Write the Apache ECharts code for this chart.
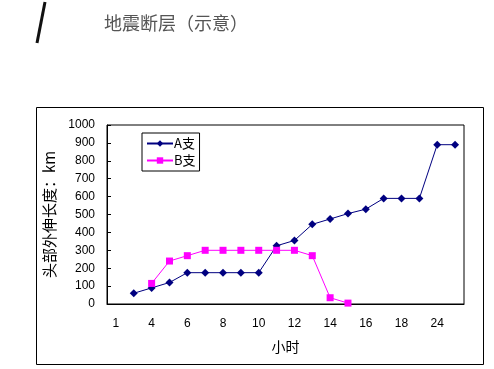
<!DOCTYPE html>
<html><head><meta charset="utf-8">
<script src="https://cdn.jsdelivr.net/npm/echarts@6/dist/echarts.min.js"></script>
<style>html,body{margin:0;padding:0;background:#fff;}#c{width:494px;height:369px;}</style>
</head><body><div id="c"></div>
<script>
const categories = ['1','3','4','5','6','7','8','9','10','11','12','13','14','15','16','17','18','20','24','25'];
const seriesA = [null,60,90,120,175,175,175,175,175,325,355,445,475,505,530,590,590,590,890,890];
const seriesB = [null,null,115,240,270,300,300,300,300,300,300,270,35,5,null,null,null,null,null,null];
const seriesNames = ['A支','B支'];
const titleText = '地震断层（示意）';
const yName = '头部外伸长度：km';
const xName = '小时';

const chart = echarts.init(document.getElementById('c'));
const lab = {fontFamily:'Liberation Sans', fontSize:12, color:'#000', formatter:function(v){return String(v);}};
chart.setOption({
  animation:false,
  backgroundColor:'#fff',
  graphic:[
    {type:'rect', shape:{x:36.5,y:107.5,width:447,height:257}, style:{fill:null, stroke:'#000', lineWidth:1}, z:-1},
    {type:'line', shape:{x1:45,y1:2,x2:37,y2:43}, style:{stroke:'#111', lineWidth:3}},
    {type:'text', left:104, top:14, style:{text:titleText, font:'18px "Noto Sans CJK SC"', fill:'#555'}}
  ],
  legend:{
    left:142, top:133, orient:'vertical', backgroundColor:'#fff',
    borderColor:'#000', borderWidth:1, padding:[4,4,4,4], itemGap:4,
    itemWidth:26, itemHeight:8,
    textStyle:{fontFamily:'Noto Sans CJK SC', fontSize:13, color:'#000', padding:[0,0,0,-4]},
    data:seriesNames
  },
  grid:{left:107, top:125, right:30, bottom:65, show:true, borderColor:'#000', borderWidth:1},
  xAxis:{
    type:'category', data:categories, boundaryGap:true,
    name:xName, nameLocation:'middle', nameGap:36,
    nameTextStyle:{fontFamily:'Noto Sans CJK SC', fontSize:14, color:'#000'},
    axisLine:{lineStyle:{color:'#000'}},
    axisTick:{inside:true, length:4, lineStyle:{color:'#000'}},
    axisLabel:Object.assign({interval:1, margin:14}, lab),
    splitLine:{show:false}
  },
  yAxis:{
    type:'value', min:0, max:1000, interval:100,
    name:yName, nameLocation:'middle', nameGap:50,
    nameTextStyle:{fontFamily:'Noto Sans CJK SC', fontSize:15, color:'#000'},
    axisLine:{show:true, lineStyle:{color:'#000'}},
    axisTick:{show:true, inside:true, length:4, lineStyle:{color:'#000'}},
    axisLabel:Object.assign({margin:12}, lab),
    splitLine:{show:false}
  },
  series:[
    {name:seriesNames[0], type:'line', data:seriesA, symbol:'diamond', symbolSize:8,
     lineStyle:{color:'#000080', width:1}, itemStyle:{color:'#000080'}, connectNulls:false},
    {name:seriesNames[1], type:'line', data:seriesB, symbol:'rect', symbolSize:7,
     lineStyle:{color:'#FF00FF', width:1}, itemStyle:{color:'#FF00FF'}, connectNulls:false}
  ]
});
</script></body></html>
